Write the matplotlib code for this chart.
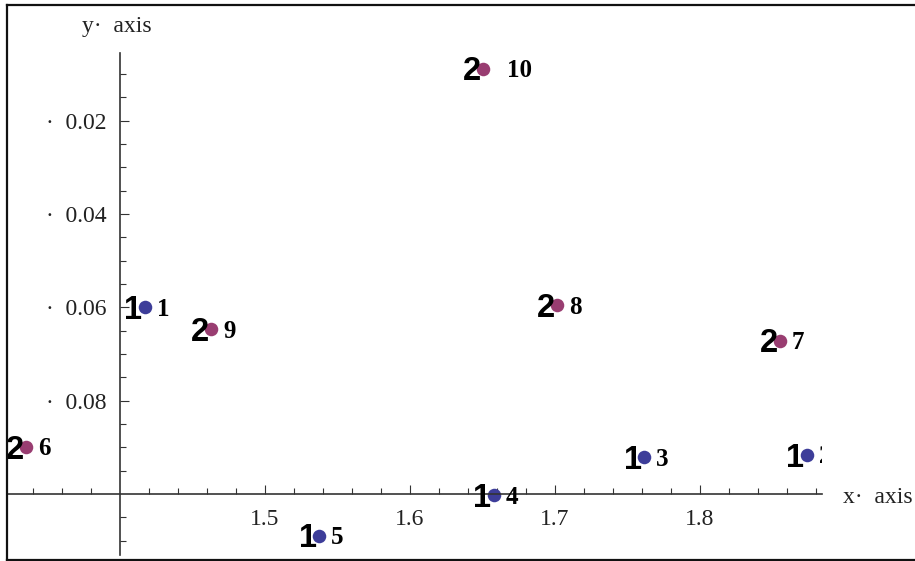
import matplotlib
matplotlib.use("Agg")
import matplotlib.pyplot as plt
from matplotlib.lines import Line2D
from matplotlib.ticker import FixedLocator, FixedFormatter, NullFormatter
import numpy as np

W, H = 915, 561

# ---- data ----
series_names = ["1", "2"]
series_colors = ["#3d3d99", "#993d71"]

series1_ids = [1, 2, 3, 4, 5]
series1_x = [1.4172, 1.8736, 1.7616, 1.6579, 1.5374]
series1_y = [-0.0600, -0.0916, -0.0921, -0.1003, -0.1089]

series2_ids = [6, 7, 8, 9, 10]
series2_x = [1.3352, 1.8552, 1.7016, 1.4628, 1.6506]
series2_y = [-0.0899, -0.0671, -0.0595, -0.0647, -0.0088]

x_major = [1.5, 1.6, 1.7, 1.8]
x_major_labels = ["1.5", "1.6", "1.7", "1.8"]
y_major = [-0.02, -0.04, -0.06, -0.08]
y_major_labels = ["\u00b7  0.02", "\u00b7  0.04", "\u00b7  0.06", "\u00b7  0.08"]
x_label = "x\u00b7  axis"
y_label = "y\u00b7  axis"

# ---- figure ----
fig = plt.figure(figsize=(W / 100, H / 100), dpi=100)
ax = fig.add_axes([8 / W, 6 / H, (821.7 - 8) / W, (555 - 53) / H])
ax.set_xlim(1.3228, 1.8839)
ax.set_ylim(-0.11308, -0.00547)
ax.patch.set_alpha(0)

for s in ["top", "right"]:
    ax.spines[s].set_visible(False)
ax.spines["left"].set_position(("data", 1.4))
ax.spines["bottom"].set_position(("data", -0.1))
for s in ["left", "bottom"]:
    ax.spines[s].set_color("#333333")
    ax.spines[s].set_linewidth(1.2)

x_minor = [v for v in np.round(np.arange(1.34, 1.8801, 0.02), 2) if v not in x_major and v != 1.4]
y_minor = [v for v in np.round(np.arange(-0.11, -0.0049, 0.005), 3) if v not in y_major and v != -0.1]

ax.xaxis.set_major_locator(FixedLocator(x_major))
ax.xaxis.set_major_formatter(FixedFormatter(x_major_labels))
ax.xaxis.set_minor_locator(FixedLocator(x_minor))
ax.xaxis.set_minor_formatter(NullFormatter())
ax.yaxis.set_major_locator(FixedLocator(y_major))
ax.yaxis.set_major_formatter(FixedFormatter(y_major_labels))
ax.yaxis.set_minor_locator(FixedLocator(y_minor))
ax.yaxis.set_minor_formatter(NullFormatter())

ax.tick_params(which="major", direction="in", length=6.3, width=0.8, color="#333333")
ax.tick_params(which="minor", direction="in", length=4.0, width=0.8, color="#333333")
ax.tick_params(axis="x", which="major", pad=10.8)
ax.tick_params(axis="y", which="major", pad=9.7)
for lab in ax.get_xticklabels() + ax.get_yticklabels():
    lab.set_fontfamily("Liberation Serif")
    lab.set_fontsize(17)
    lab.set_color("#222222")

# ---- points & labels ----
all_series = [
    (series1_ids, series1_x, series1_y),
    (series2_ids, series2_x, series2_y),
]
for (ids, xs, ys), name, col in zip(all_series, series_names, series_colors):
    ax.scatter(xs, ys, s=95, color=col, linewidths=0, zorder=2)
    for i, x, y in zip(ids, xs, ys):
        ax.annotate(name, (x, y), xytext=(-11.5, -11.8), textcoords="offset pixels",
                    ha="center", va="baseline", fontsize=23.5, fontweight="bold",
                    family="Liberation Sans", color="black", clip_on=True, zorder=3)
        s = str(i)
        ax.annotate(s, (x, y), xytext=(12 * len(s), -8.5), textcoords="offset pixels",
                    ha="left", va="baseline", fontsize=18, fontweight="bold",
                    family="Liberation Serif", color="black", clip_on=True, zorder=3)

# ---- axis labels ----
fig.text(843 / W, 1 - 503 / H, x_label, ha="left", va="baseline",
         family="Liberation Serif", fontsize=17, color="#222222")
fig.text(82 / W, 1 - 32 / H, y_label, ha="left", va="baseline",
         family="Liberation Serif", fontsize=17, color="#222222")

# ---- frame (top, left, bottom) ----
def px_line(x0, y0, x1, y1):
    fig.add_artist(Line2D([x0 / W, x1 / W], [1 - y0 / H, 1 - y1 / H],
                          transform=fig.transFigure, color="#111111", lw=1.6))

px_line(7, 5, W, 5)
px_line(7, 5, 7, 560)
px_line(7, 560, W, 560)

fig.savefig("out.png", dpi=100)
